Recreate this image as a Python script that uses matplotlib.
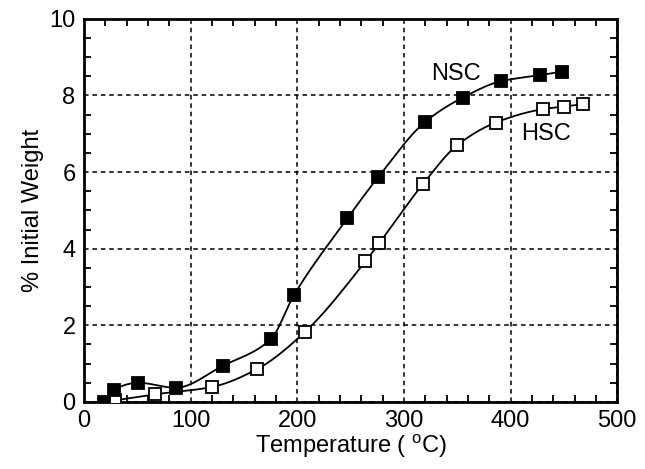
import numpy as np
import matplotlib
matplotlib.use("Agg")
import matplotlib.pyplot as plt
from matplotlib.ticker import MultipleLocator

# Data
nsc_temp = [19, 28, 51, 86, 130, 175, 197, 247, 276, 320, 355, 391, 428, 448]
nsc_weight = [0.0, 0.32, 0.50, 0.37, 0.94, 1.63, 2.79, 4.79, 5.87, 7.31, 7.94, 8.37, 8.53, 8.62]
hsc_temp = [29, 67, 120, 162, 207, 264, 277, 318, 350, 386, 430, 450, 468]
hsc_weight = [0.04, 0.20, 0.39, 0.85, 1.82, 3.67, 4.15, 5.69, 6.70, 7.29, 7.64, 7.71, 7.77]

x_ticks = [0, 100, 200, 300, 400, 500]
y_ticks = [0, 2, 4, 6, 8, 10]

plt.rcParams['font.family'] = ['Liberation Sans', 'DejaVu Sans']


def pchip(x, y, xs):
    x = np.asarray(x, float)
    y = np.asarray(y, float)
    h = np.diff(x)
    d = np.diff(y) / h
    n = len(x)
    m = np.zeros(n)
    for k in range(1, n - 1):
        if d[k - 1] * d[k] <= 0:
            m[k] = 0.0
        else:
            w1 = 2 * h[k] + h[k - 1]
            w2 = h[k] + 2 * h[k - 1]
            m[k] = (w1 + w2) / (w1 / d[k - 1] + w2 / d[k])
    m[0] = d[0]
    m[-1] = d[-1]
    ys = np.empty_like(xs)
    idx = np.clip(np.searchsorted(x, xs) - 1, 0, n - 2)
    for j, (xv, i) in enumerate(zip(xs, idx)):
        t = (xv - x[i]) / h[i]
        h00 = 2 * t**3 - 3 * t**2 + 1
        h10 = t**3 - 2 * t**2 + t
        h01 = -2 * t**3 + 3 * t**2
        h11 = t**3 - t**2
        ys[j] = h00 * y[i] + h10 * h[i] * m[i] + h01 * y[i + 1] + h11 * h[i] * m[i + 1]
    return ys


fig = plt.figure(figsize=(6.45, 4.69), dpi=100)
ax = fig.add_axes([0.130, 0.143, 0.827, 0.817])

for tx, wy, face in [(hsc_temp, hsc_weight, 'white'), (nsc_temp, nsc_weight, 'black')]:
    xs = np.linspace(tx[0], tx[-1], 400)
    ax.plot(xs, pchip(tx, wy, xs), color='black', lw=1.3, zorder=3)
    ax.plot(tx, wy, ls='none', marker='s', ms=9, mfc=face, mec='black', mew=1.3, zorder=4)

ax.set_xlim(0, 500)
ax.set_ylim(0, 10)
ax.set_xticks(x_ticks)
ax.set_yticks(y_ticks)
ax.xaxis.set_minor_locator(MultipleLocator(20))
ax.yaxis.set_minor_locator(MultipleLocator(0.5))
ax.tick_params(which='both', direction='in', top=True, right=True, labelsize=17, width=1.3)
ax.tick_params(which='major', length=0, pad=6)
ax.tick_params(which='minor', length=5)
ax.grid(True, which='major', color='black', ls=(0, (3, 2.5)), lw=1.1)
for s in ax.spines.values():
    s.set_linewidth(2.0)

ax.set_xlabel(r'Temperature ( $^{\mathregular{o}}$C)', fontsize=17, labelpad=0)
ax.set_ylabel('% Initial Weight', fontsize=17, labelpad=4)

ax.text(349, 8.56, 'NSC', fontsize=17, ha='center', va='center')
ax.text(433, 6.99, 'HSC', fontsize=17, ha='center', va='center')

fig.savefig('out.png', dpi=100)
